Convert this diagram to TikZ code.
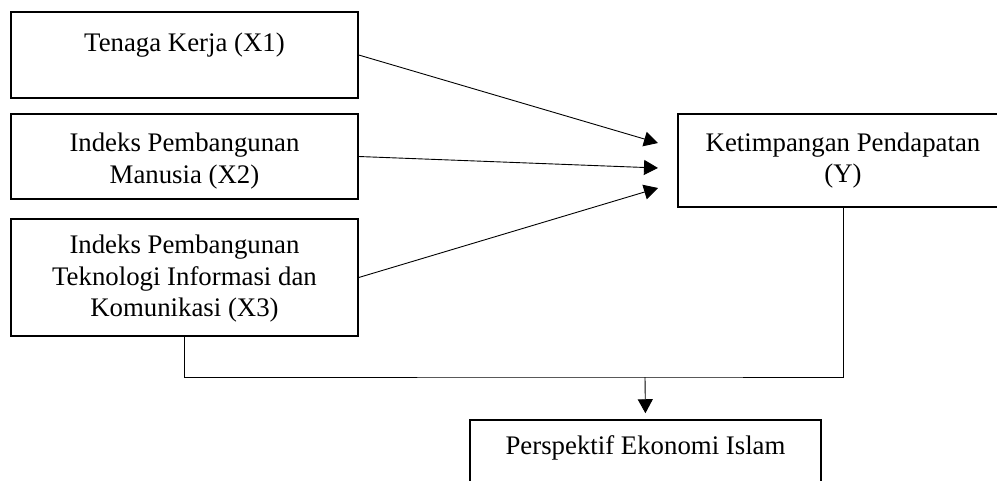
\documentclass[tikz,border=0pt]{standalone}
\usepackage{fontspec}
\setmainfont{Liberation Serif}
\usetikzlibrary{arrows.meta}
\begin{document}
\begin{tikzpicture}[x=1pt,y=-1pt,
  box/.style={draw=black,line width=1.5pt,rectangle,inner sep=0pt},
  lbl/.style={align=center,inner sep=0pt,font=\fontsize{26.8}{31.5}\selectfont},
  conn/.style={draw=black,line width=0.9pt},
  arr/.style={conn,-{Triangle[length=14pt,width=15pt]}}]
\useasboundingbox (0,0) rectangle (997,480);
% boxes
\node[box,minimum width=347pt,minimum height=86pt] (X1) at (184.5,55) {};
\node[box,minimum width=347pt,minimum height=85pt] (X2) at (184.5,156.5) {};
\node[box,minimum width=347pt,minimum height=117pt] (X3) at (184.5,277.5) {};
\node[box,minimum width=330pt,minimum height=93pt] (Y) at (843,160.5) {};
\node[box,minimum width=351pt,minimum height=66pt] (P) at (645.5,453) {};
% texts
\node[lbl] (tX1) at (184.5,45) {Tenaga Kerja (X1)};
\node[lbl] (tX2) at (184.5,161) {Indeks Pembangunan\\Manusia (X2)};
\node[lbl] (tX3) at (184.5,279) {Indeks Pembangunan\\Teknologi Informasi dan\\Komunikasi (X3)};
\node[lbl] (tY) at (843,160.5) {Ketimpangan Pendapatan\\(Y)};
\node[lbl] (tP) at (645.5,448) {Perspektif Ekonomi Islam};
% arrow targets
\coordinate (a1) at (658,143);
\coordinate (a2) at (658,168);
\coordinate (a3) at (658,188);
\coordinate (m) at (645,377);
\draw[arr] (X1.east) -- (a1);
\draw[arr] (X2.east) -- (a2);
\draw[arr] (X3.east) -- (a3);
\draw[conn] (X3.south) |- (m) -| (Y.south);
\draw[arr,shorten >=6pt] (m) -- (P.north);
\end{tikzpicture}
\end{document}
